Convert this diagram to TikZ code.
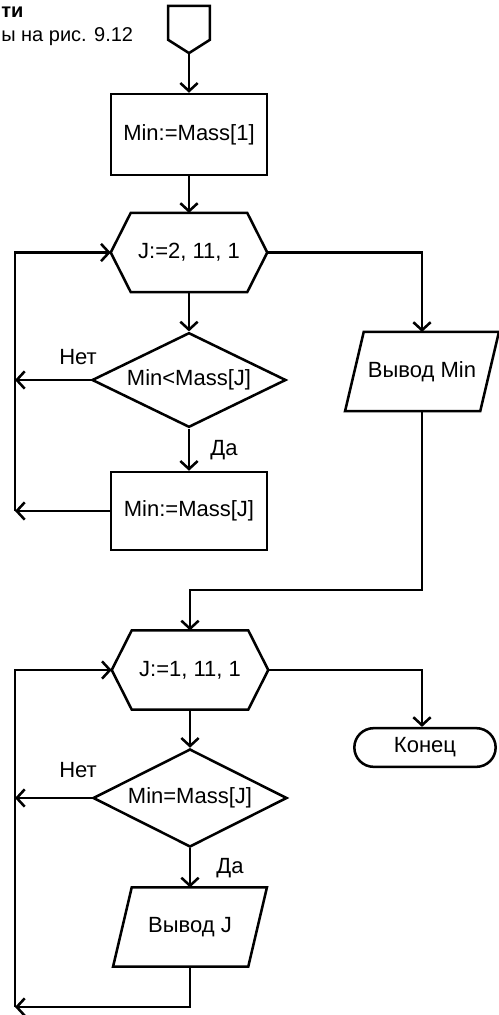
\documentclass[tikz,border=0pt]{standalone}
\usepackage{fontspec}
\setmainfont{Liberation Sans}
\usetikzlibrary{arrows.meta,shapes.geometric,shapes.misc}

\tikzset{
  every node/.style={font=\fontsize{16.5pt}{19pt}\selectfont},
  flow/.style={line width=1.9pt,-{Straight Barb[length=6pt,width=13pt]}},
  box/.style={draw,line width=1.9pt,minimum width=117pt,minimum height=58.5pt,inner sep=0pt},
  hexnode/.style={minimum width=117pt,minimum height=59pt,inner sep=0pt},
  ionode/.style={minimum width=101pt,minimum height=59pt,inner sep=0pt},
  cond/.style={draw,line width=1.9pt,diamond,aspect=2.2,minimum width=145.5pt,minimum height=71pt,inner sep=0pt},
  stop/.style={draw,line width=1.9pt,rounded rectangle,minimum width=106pt,minimum height=29pt,inner sep=0pt},
  startnode/.style={minimum width=31pt,minimum height=35pt,inner sep=0pt},
}

% outlines drawn round plain nodes
\newcommand{\hexframe}[1]{\draw[line width=1.9pt] (#1.west) -- ([xshift=15pt]#1.north west) -- ([xshift=-15pt]#1.north east) -- (#1.east) -- ([xshift=-15pt]#1.south east) -- ([xshift=15pt]#1.south west) -- cycle;}
\newcommand{\ioframe}[1]{\draw[line width=1.9pt] ([xshift=7pt]#1.north west) -- ([xshift=7pt]#1.north east) -- ([xshift=-7pt]#1.south east) -- ([xshift=-7pt]#1.south west) -- cycle;}
\newcommand{\startframe}[1]{\draw[line width=1.9pt] (#1.north west) -- (#1.north east) -- ([yshift=-10pt]#1.south east) -- (#1.south) -- ([yshift=-10pt]#1.south west) -- cycle;}

\begin{document}
\begin{tikzpicture}[x=0.75pt,y=0.75pt,yscale=-1,xscale=1]
\useasboundingbox (0,0) rectangle (499,1015);

% Text Node
\node[anchor=west,inner sep=0pt,font=\fontsize{15pt}{18pt}\selectfont\bfseries] (capA) at (1,12) {ти};
% Text Node
\node[anchor=west,inner sep=0pt,font=\fontsize{15pt}{18pt}\selectfont] (capB) at (1,37) {ы на рис. 9.12};

%Shape: Start
\node[startnode] (start) at (189,29.5) {};
\startframe{start}
%Shape: Rectangle
\node[box,minimum height=60.75pt] (init) at (189,134.5) {Min:=Mass[1]};
%Shape: Hexagon
\node[hexnode] (loopA) at (189,252.5) {J:=2, 11, 1};
\hexframe{loopA}
%Shape: Diamond
\node[cond] (testA) at (189,380) {Min<Mass[J]};
%Shape: Rectangle
\node[box] (assign) at (189,511) {Min:=Mass[J]};
%Shape: Parallelogram
\node[ionode] (outMin) at (422,371.5) {Вывод Min};
\ioframe{outMin}
%Shape: Hexagon
\node[hexnode] (loopB) at (190,670) {J:=1, 11, 1};
\hexframe{loopB}
%Shape: Terminator
\node[stop] (finish) at (425,747.5) {Конец};
%Shape: Diamond
\node[cond,minimum height=73.5pt] (testB) at (190,798) {Min=Mass[J]};
%Shape: Parallelogram
\node[ionode] (outJ) at (190,927) {Вывод J};
\ioframe{outJ}

% Text Node
\node (noA) at (78,357) {Нет};
% Text Node
\node (yesA) at (224,450) {Да};
% Text Node
\node (noB) at (78,770) {Нет};
% Text Node
\node (yesB) at (230,868) {Да};

% turning points of the loops
\coordinate (backA) at (15,511);
\coordinate (backB) at (15,1007);
\coordinate (joinA) at (190,590);

%Straight Lines
\draw[flow] (start.south) -- (init.north);
\draw[flow] (init.south) -- (loopA.north);
\draw[flow] (loopA.south) -- (testA.north);
\draw[flow] (testA.south) -- (assign.north);
\draw[flow] (testA.west) -- (testA.west -| backA);
\draw[flow] (assign.west) -- (backA);
\draw[flow] (backA) |- (loopA.west);
\draw[flow] (loopA.east) -| (outMin.north);
\draw[flow] (outMin.south) |- (joinA) -- (loopB.north);
\draw[flow] (loopB.east) -| (finish.north -| outMin.south);
\draw[flow] (loopB.south) -- (testB.north);
\draw[flow] (testB.west) -- (testB.west -| backB);
\draw[flow] (testB.south) -- (outJ.north);
\draw[flow] (outJ.south) |- (backB);
\draw[flow] (backB) |- (loopB.west);

\end{tikzpicture}
\end{document}
